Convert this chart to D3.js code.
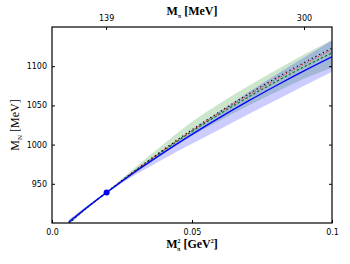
<!DOCTYPE html>
<html><head><meta charset="utf-8">
<script src="https://cdn.jsdelivr.net/npm/d3@7/dist/d3.min.js"></script>
<style>
html,body{margin:0;padding:0;background:#fff;}
svg{display:block;}
</style></head>
<body>
<script>
// m_pi^2 grid [GeV^2]
const mpi2 = [0.006, 0.008, 0.01, 0.015, 0.02, 0.025, 0.03, 0.04, 0.05, 0.06, 0.07, 0.08, 0.09, 0.1];
const blueLine  = [901.2, 907.1, 912.9, 926.9, 940.3, 953.3, 965.9, 990.1, 1013.0, 1034.7, 1055.4, 1075.1, 1094.0, 1112.0];
const blackLine = [899.7, 905.9, 912.0, 926.5, 940.4, 954.3, 967.9, 994.1, 1019.0, 1042.2, 1064.2, 1084.9, 1104.5, 1123.0];
const redLine   = [900.0, 906.1, 912.2, 926.6, 940.4, 954.1, 967.5, 993.4, 1018.0, 1041.0, 1062.7, 1083.1, 1102.5, 1121.0];
const greenLine = [900.4, 906.5, 912.4, 926.7, 940.3, 953.9, 967.1, 992.6, 1016.8, 1039.3, 1060.4, 1080.3, 1099.2, 1117.0];
const greenLo = [898.2, 904.6, 910.9, 925.4, 938.8, 952.3, 964.9, 989.1, 1011.0, 1030.7, 1049.4, 1067.1, 1084.0, 1098.0];
const greenHi = [903.2, 909.1, 914.9, 928.4, 941.8, 956.8, 971.9, 1001.1, 1029.0, 1052.7, 1074.4, 1095.1, 1115.0, 1133.0];
const blueLo  = [898.2, 904.1, 910.4, 924.9, 938.8, 950.8, 961.9, 982.1, 1001.0, 1019.7, 1038.4, 1056.6, 1075.0, 1093.0];
const blueHi  = [904.2, 909.6, 914.9, 928.4, 941.8, 955.3, 968.9, 994.1, 1019.0, 1042.7, 1066.4, 1089.1, 1111.0, 1133.0];
const physPoint = [0.0195, 938.9];
const xTicks = [0.0, 0.05, 0.1];
const xTickLabels = ["0.0", "0.05", "0.1"];
const yTicks = [950, 1000, 1050, 1100];
const topTicks = [139, 300];

const W = 350, H = 264;
const m = {l:52, r:18, t:27, b:41};
const svg = d3.select("body").append("svg").attr("width", W).attr("height", H);
const x = d3.scaleLinear().domain([0, 0.1]).range([m.l, W - m.r]);
const y = d3.scaleLinear().domain([900, 1150]).range([H - m.b, m.t]);

svg.append("defs").append("clipPath").attr("id","clip")
  .append("rect").attr("x", m.l).attr("y", m.t).attr("width", W-m.l-m.r).attr("height", H-m.t-m.b);
const g = svg.append("g").attr("clip-path","url(#clip)");

const idx = d3.range(mpi2.length);
const area = (lo, hi) => d3.area().x(i => x(mpi2[i])).y0(i => y(lo[i])).y1(i => y(hi[i])).curve(d3.curveMonotoneX);
const line = arr => d3.line().x(i => x(mpi2[i])).y(i => y(arr[i])).curve(d3.curveMonotoneX);

g.append("path").attr("d", area(greenLo, greenHi)(idx)).attr("fill", "rgb(0,128,0)").attr("fill-opacity", 0.2);
g.append("path").attr("d", area(blueLo, blueHi)(idx)).attr("fill", "rgb(0,0,255)").attr("fill-opacity", 0.2);

g.append("path").attr("d", line(greenLine)(idx)).attr("fill","none").attr("stroke","#008000").attr("stroke-width",1.1).attr("stroke-dasharray","2.5,2");
g.append("path").attr("d", line(redLine)(idx)).attr("fill","none").attr("stroke","#ff0000").attr("stroke-width",1).attr("stroke-dasharray","1,2");
g.append("path").attr("d", line(blackLine)(idx)).attr("fill","none").attr("stroke","#000").attr("stroke-width",1.2).attr("stroke-dasharray","1.2,3");
g.append("path").attr("d", line(blueLine)(idx)).attr("fill","none").attr("stroke","#0000ff").attr("stroke-width",1.3);

svg.append("circle").attr("cx", x(physPoint[0])).attr("cy", y(physPoint[1])).attr("r", 3).attr("fill", "#0000ff");

// frame
svg.append("rect").attr("x", m.l).attr("y", m.t).attr("width", W-m.l-m.r).attr("height", H-m.t-m.b)
  .attr("fill","none").attr("stroke","#000").attr("stroke-width",1.2);

// axes with inward ticks
const fs = 8;
const axB = svg.append("g").attr("transform", `translate(0,${H-m.b})`)
  .call(d3.axisBottom(x).tickValues(xTicks).tickFormat((d,i) => xTickLabels[i]).tickSizeInner(-3).tickSizeOuter(0).tickPadding(6));
const axL = svg.append("g").attr("transform", `translate(${m.l},0)`)
  .call(d3.axisLeft(y).tickValues(yTicks).tickFormat(d3.format("d")).tickSizeInner(-3).tickSizeOuter(0).tickPadding(5));
const axR = svg.append("g").attr("transform", `translate(${W-m.r},0)`)
  .call(d3.axisRight(y).tickValues(yTicks).tickFormat("").tickSizeInner(-3).tickSizeOuter(0));
const axT = svg.append("g").attr("transform", `translate(0,${m.t})`)
  .call(d3.axisTop(x).tickValues(topTicks.map(v => (v/1000)*(v/1000))).tickFormat((d,i) => String(topTicks[i])).tickSizeInner(-3).tickSizeOuter(0).tickPadding(6));
[axB, axL, axR, axT].forEach(a => {
  a.attr("font-family", null).attr("font-size", null);
  a.select(".domain").remove();
  a.selectAll("line").attr("stroke","#000").attr("stroke-width",1);
  a.selectAll("text").attr("font-size", fs).attr("font-family","DejaVu Sans, sans-serif").attr("fill","#000");
});

// axis labels
const serif = "'Liberation Serif', 'DejaVu Serif', serif";
const yl = svg.append("text").attr("transform", `translate(19,${(m.t + H - m.b)/2}) rotate(-90)`)
  .attr("text-anchor","middle").attr("font-family", serif).attr("font-size", 12).attr("fill","#000");
yl.append("tspan").text("M");
yl.append("tspan").attr("font-size", 7).attr("dy", 3).text("N");
yl.append("tspan").attr("dy", -3).text("  [MeV]");

const tl = svg.append("text").attr("x", 192).attr("y", 15).attr("text-anchor","middle")
  .attr("font-family", serif).attr("font-weight","bold").attr("font-size", 12).attr("fill","#000");
tl.append("tspan").text("M");
tl.append("tspan").attr("font-size", 6).attr("dy", 3).text("π");
tl.append("tspan").attr("dy", -3).text("  [MeV]");

const bl = svg.append("text").attr("x", 192).attr("y", 248).attr("text-anchor","middle")
  .attr("font-family", serif).attr("font-weight","bold").attr("font-size", 12).attr("fill","#000");
bl.append("tspan").text("M");
bl.append("tspan").attr("font-size", 6).attr("dy", -5).text("2");
bl.append("tspan").attr("font-size", 6).attr("dx", -3.5).attr("dy", 8).text("π");
bl.append("tspan").attr("dy", -3).text("  [GeV");
bl.append("tspan").attr("font-size", 6).attr("dy", -5).text("2");
bl.append("tspan").attr("dy", 5).text("]");
</script>
</body></html>
